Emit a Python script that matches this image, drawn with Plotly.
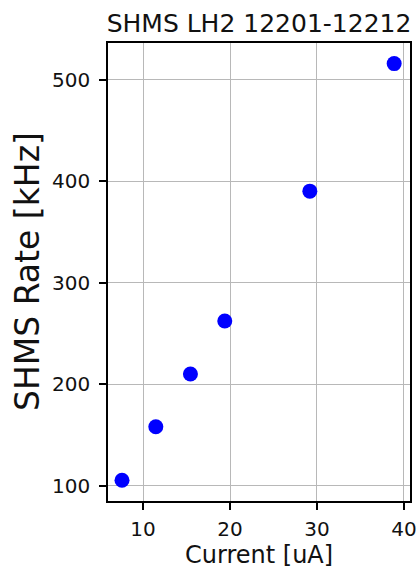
import plotly.graph_objects as go

current_uA = [7.58, 11.47, 15.45, 19.40, 29.18, 38.88]
rate_kHz = [105.6, 158.3, 210.2, 262.3, 390.2, 515.7]

x_ticks = [10, 20, 30, 40]
y_ticks = [100, 200, 300, 400, 500]

FONT = "DejaVu Sans"

fig = go.Figure()
fig.add_trace(go.Scatter(
    x=current_uA, y=rate_kHz, mode="markers",
    marker=dict(color="#0000ff", size=15, line=dict(width=0)),
    showlegend=False,
))

axis_common = dict(
    showline=True, linecolor="black", linewidth=1.5, mirror=True,
    ticks="outside", ticklen=7, tickwidth=1.5, tickcolor="black",
    showgrid=True, gridcolor="#b8b8b8", gridwidth=1.4,
    zeroline=False, automargin=False,
    tickfont=dict(family=FONT, size=20, color="#111111"),
)

fig.update_layout(
    width=418, height=569,
    paper_bgcolor="white", plot_bgcolor="white",
    margin=dict(l=108, r=8, t=43, b=68, autoexpand=False),
    title=dict(text="SHMS LH2 12201-12212", x=0.5, xref="paper", y=1, yref="paper",
               yanchor="bottom", pad=dict(b=11),
               font=dict(family=FONT, size=25, color="#111111")),
    xaxis=dict(range=[5.97, 40.7], tickvals=x_ticks, ticklabelstandoff=2, **axis_common),
    yaxis=dict(range=[85.2, 536], tickvals=y_ticks, ticklabelstandoff=5, **axis_common),
    annotations=[
        dict(text="Current [uA]", xref="paper", yref="paper", x=0.5, y=0,
             xanchor="center", yanchor="middle", yshift=-54, showarrow=False,
             font=dict(family=FONT, size=24, color="#111111")),
        dict(text="SHMS Rate [kHz]", xref="paper", yref="paper", x=0, y=0.5,
             xanchor="center", yanchor="middle", xshift=-81, textangle=-90,
             showarrow=False, font=dict(family=FONT, size=33, color="#111111")),
    ],
)

fig.write_html("out.html", config={"displayModeBar": False},
               post_script="document.body.style.margin='0';")
